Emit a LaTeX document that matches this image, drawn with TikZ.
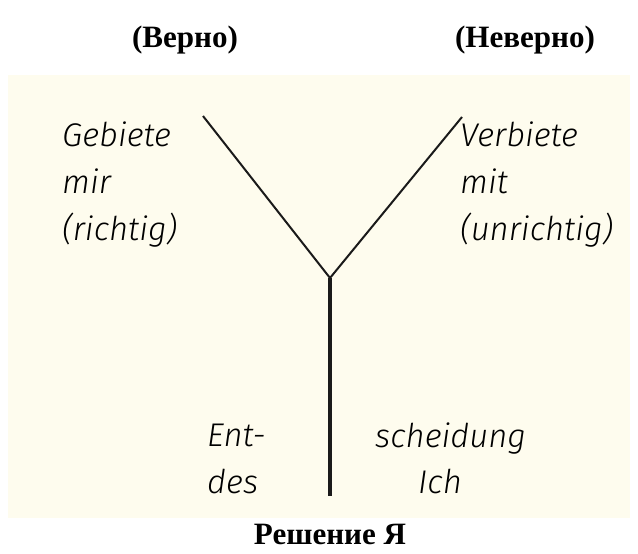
\documentclass[tikz,border=0pt]{standalone}
\usepackage{fontspec}
\setmainfont{Liberation Serif}
\newfontfamily\handfont{Fira Sans Light Italic}
\usetikzlibrary{positioning}
\definecolor{paperyellow}{HTML}{FEFCEE}
\definecolor{inkblack}{HTML}{1A1A1A}

\begin{document}
\begin{tikzpicture}[x=0.03cm, y=-0.03cm,
  head/.style={font=\fontsize{26.5}{30}\selectfont\bfseries, inner sep=0pt},
  hand/.style={font=\handfont\fontsize{28}{40}\selectfont, align=left, inner sep=0pt, anchor=base west},
  arm/.style={line width=1.7pt, inkblack},
  stem/.style={line width=2.8pt, inkblack},
]
\useasboundingbox (0,0) rectangle (638,553);

% ── Paper ──
\fill[paperyellow] (8,75) rectangle (630,518);

% ── Headings ──
\node[head] (rightlbl) at (185,40) {(Верно)};
\node[head] (wronglbl) at (525,40) {(Неверно)};

% ── The Y ──
\coordinate (ltop) at (203,116);
\coordinate (rtop) at (462,117);
\coordinate (fork) at (330,278);
\coordinate (foot) at (330,496);

\draw[arm] (ltop) -- (fork) -- (rtop);
\draw[stem] (fork) -- (foot);

% ── Branch texts (anchor = last line) ──
\node[hand] (gebiete) at (62,240) {Gebiete\\mir\\(richtig)};
\node[hand] (verbiete) at (460,240) {Verbiete\\mit\\(unrichtig)};

% ── Stem texts ──
\node[hand] (ent) at (207,493) {Ent-\\des};
\node[hand] (scheid) at (375,447) {scheidung};
\node[hand] (ich) at (418,493) {Ich};

% Caption
\node[head] (caption) at (330,534) {Решение Я};

\end{tikzpicture}
\end{document}
